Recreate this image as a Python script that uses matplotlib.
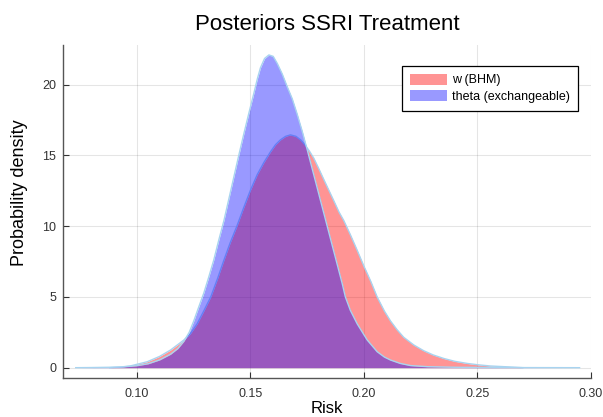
import matplotlib
matplotlib.use("Agg")
import matplotlib.pyplot as plt
from matplotlib.patches import Patch

plt.rcParams['font.family'] = ['Liberation Sans', 'DejaVu Sans']

title = "Posteriors SSRI Treatment"
xlabel = "Risk"
ylabel = "Probability density"
labels = ["w (BHM)", "theta (exchangeable)"]

w_x = [0.088, 0.093, 0.097, 0.1045, 0.110, 0.1148, 0.1177, 0.1206, 0.1235, 0.1265,
       0.1294, 0.1325, 0.1355, 0.1383, 0.141, 0.144, 0.147, 0.150, 0.153, 0.1559,
       0.1588, 0.161, 0.1632, 0.1655, 0.1676, 0.170, 0.1721, 0.1740, 0.1760, 0.1779,
       0.180, 0.1823, 0.1845, 0.1867, 0.189, 0.1911, 0.194, 0.197, 0.1999, 0.203,
       0.2058, 0.209, 0.2117, 0.2145, 0.2175, 0.222, 0.2263, 0.2305, 0.2352, 0.240,
       0.2455, 0.2505, 0.2557, 0.2645, 0.270]
w_y = [0.0, 0.05, 0.12, 0.42, 0.8, 1.25, 1.6, 1.95, 2.4, 3.1,
       4.0, 5.0, 6.3, 7.6, 8.8, 10.0, 11.3, 12.55, 13.65, 14.5,
       15.25, 15.75, 16.1, 16.35, 16.45, 16.35, 16.1, 15.75, 15.3, 14.8,
       14.1, 13.3, 12.55, 11.8, 11.0, 10.4, 9.4, 8.3, 7.2, 6.1,
       5.0, 4.0, 3.3, 2.7, 2.15, 1.6, 1.2, 0.9, 0.65, 0.45,
       0.3, 0.2, 0.12, 0.05, 0.0]

theta_x = [0.073, 0.080, 0.088, 0.094, 0.100, 0.105, 0.110, 0.1148, 0.118, 0.1206,
           0.123, 0.125, 0.127, 0.1294, 0.1316, 0.1338, 0.136, 0.1383, 0.1405, 0.1427,
           0.1449, 0.1471, 0.1493, 0.1515, 0.1530, 0.1544, 0.1562, 0.1581, 0.1600, 0.1618,
           0.1640, 0.1662, 0.1684, 0.1706, 0.1728, 0.175, 0.1772, 0.1794, 0.1816, 0.1838,
           0.186, 0.1882, 0.1904, 0.1918, 0.194, 0.197, 0.2014, 0.2058, 0.209, 0.2117,
           0.216, 0.2205, 0.228, 0.240, 0.260, 0.295]
theta_y = [0.0, 0.01, 0.03, 0.06, 0.14, 0.28, 0.55, 0.95, 1.35, 1.85,
           2.5, 3.3, 4.2, 5.26, 6.4, 7.6, 9.0, 10.4, 11.95, 13.5,
           15.05, 16.55, 18.0, 19.4, 20.4, 21.2, 21.85, 22.1, 22.0, 21.5,
           20.75, 19.85, 19.0, 17.9, 16.7, 15.4, 14.05, 12.7, 11.35, 10.0,
           8.65, 7.3, 5.95, 5.0, 4.05, 3.1, 1.96, 1.13, 0.75, 0.54,
           0.3, 0.15, 0.07, 0.03, 0.01, 0.0]

xticks = [0.10, 0.15, 0.20, 0.25, 0.30]
xticklabels = ["0.10", "0.15", "0.20", "0.25", "0.30"]
yticks = [0, 5, 10, 15, 20]

fig = plt.figure(figsize=(6.03, 4.17), dpi=100)
ax = fig.add_axes([0.1045, 0.0935, 0.8755, 0.7985])

line_col = '#a8d4f0'
ax.fill_between(w_x, 0, w_y, color='red', alpha=0.42, linewidth=0, zorder=2)
ax.plot(w_x, w_y, color=line_col, lw=1.0, zorder=3)
ax.fill_between(theta_x, 0, theta_y, color='blue', alpha=0.40, linewidth=0, zorder=4)
ax.plot(theta_x, theta_y, color=line_col, lw=1.0, zorder=5)

ax.set_xlim(0.0674, 0.300)
ax.set_ylim(-0.73, 22.8)
ax.set_xticks(xticks)
ax.set_xticklabels(xticklabels)
ax.set_yticks(yticks)
ax.grid(True, color='#000000', alpha=0.1, lw=0.8)
ax.set_axisbelow(True)
for s in ['top', 'right']:
    ax.spines[s].set_visible(False)
for s in ['left', 'bottom']:
    ax.spines[s].set_color('#555555')
    ax.spines[s].set_linewidth(1.0)
ax.tick_params(direction='in', length=4, width=0.8, colors='#333333', labelsize=9, pad=5)
ax.tick_params(axis='x', pad=7)

ax.set_title(title, fontsize=16, pad=11)
ax.set_xlabel(xlabel, fontsize=12, labelpad=1)
ax.set_ylabel(ylabel, fontsize=13)
ax.yaxis.set_label_coords(-0.066, 0.557)

handles = [Patch(facecolor='red', alpha=0.42, edgecolor='none'),
           Patch(facecolor='blue', alpha=0.40, edgecolor='none')]
leg = ax.legend(handles, labels, loc='upper right', bbox_to_anchor=(0.975, 0.937),
                borderaxespad=0, fancybox=False, fontsize=9, handlelength=3.0,
                handleheight=1.0, handletextpad=0.4, labelspacing=0.3,
                borderpad=0.6, framealpha=1)
leg.get_frame().set_edgecolor('black')
leg.get_frame().set_linewidth(0.9)

fig.savefig("out.png", dpi=100)
